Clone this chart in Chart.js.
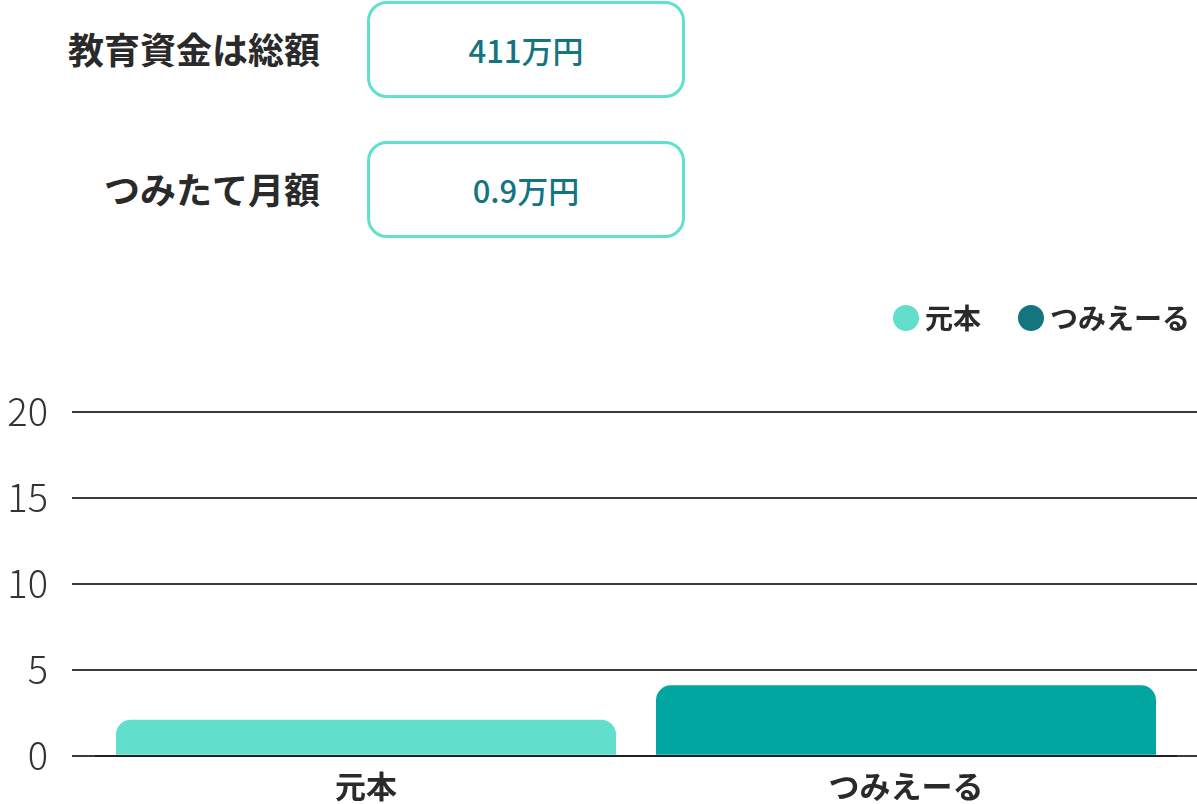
<!DOCTYPE html>
<html lang="ja">
<head>
<meta charset="utf-8">
<title>教育資金</title>
<script src="https://cdn.jsdelivr.net/npm/chart.js@4/dist/chart.umd.min.js"></script>
<style>
  html, body { margin: 0; padding: 0; width: 1197px; height: 804px; overflow: hidden; background: #fff; }
  body { position: relative; font-family: "Noto Sans CJK JP", "Noto Sans", sans-serif; }
  .row { position: absolute; left: 0; height: 97px; }
  .row .label { position: absolute; right: calc(100% - 320px); width: 320px; text-align: right;
    font-size: 36px; font-weight: 700; color: #2a2a2a; line-height: 95px; white-space: nowrap; }
  .row .box { position: absolute; left: 367px; width: 312px; height: 91px; border: 3px solid #61e0cd;
    border-radius: 20px; text-align: center; line-height: 91px; font-size: 31px; font-weight: 500; color: #137580; }
  #wrap { position: absolute; left: 0; top: 259px; width: 1235px; height: 550px; }
</style>
</head>
<body>
<div class="row" style="top:1px; width:700px;">
  <div class="label">教育資金は総額</div>
  <div class="box">411万円</div>
</div>
<div class="row" style="top:141px; width:700px;">
  <div class="label">つみたて月額</div>
  <div class="box">0.9万円</div>
</div>
<div id="wrap"><canvas id="chart"></canvas></div>
<script>
const categories = ['元本', 'つみえーる'];
const values = [2.1, 4.1];
const barColors = ['#61dfcc', '#02a6a0'];
const legendColors = ['#61dfcc', '#137580'];
const yTicks = [0, 5, 10, 15, 20];

const fontFamily = '"Noto Sans CJK JP", "Noto Sans", sans-serif';
const textColor = '#2a2a2a';
const gridColor = '#3a3a3a';

const yRange = { min: yTicks[0], max: yTicks[yTicks.length - 1], stepSize: yTicks[1] - yTicks[0] };

new Chart(document.getElementById('chart'), {
  type: 'bar',
  data: {
    labels: categories,
    datasets: [{
      data: values,
      backgroundColor: barColors,
      borderWidth: 0,
      borderRadius: 15,
      borderSkipped: 'bottom',
      barPercentage: 0.926,
      categoryPercentage: 1,
    }],
  },
  options: {
    responsive: true,
    maintainAspectRatio: false,
    animation: false,
    layout: { padding: 0 },
    plugins: {
      tooltip: { enabled: false },
      // empty title with a low weight sits between the legend and the plot,
      // it only adds the gap under the legend
      title: {
        display: true,
        text: '',
        weight: 500,
        padding: { top: 58, bottom: 0 },
        font: { size: 10 },
      },
      legend: {
        position: 'top',
        align: 'end',
        labels: {
          usePointStyle: true,
          boxWidth: 10,
          boxHeight: 18.4,
          padding: 45,
          color: textColor,
          font: { family: fontFamily, size: 28, weight: '700' },
          generateLabels: () => categories.map((c, i) => ({
            text: c,
            fillStyle: legendColors[i],
            strokeStyle: legendColors[i],
            lineWidth: 0,
            pointStyle: 'circle',
            hidden: false,
            index: i,
            fontColor: textColor,
          })),
        },
      },
    },
    scales: {
      x: {
        grid: { display: false },
        border: { display: true, color: '#222', width: 2 },
        ticks: {
          padding: 4,
          color: textColor,
          font: { family: fontFamily, size: 31, weight: '700' },
        },
      },
      y: {
        ...yRange,
        afterFit: (scale) => { scale.width = 96; },
        border: { display: false },
        grid: { color: gridColor, lineWidth: 2, drawTicks: true, tickLength: 24 },
        ticks: {
          stepSize: yRange.stepSize,
          padding: 24,
          color: '#333',
          font: { family: fontFamily, size: 38, weight: '300' },
        },
      },
      // only there to carry the grid lines out to the right edge
      y2: {
        type: 'linear',
        position: 'right',
        ...yRange,
        afterFit: (scale) => { scale.width = 59; },
        border: { display: false },
        grid: { color: gridColor, lineWidth: 2, drawOnChartArea: false, drawTicks: true, tickLength: 21 },
        ticks: { display: false, stepSize: yRange.stepSize },
      },
    },
  },
});
</script>
</body>
</html>
